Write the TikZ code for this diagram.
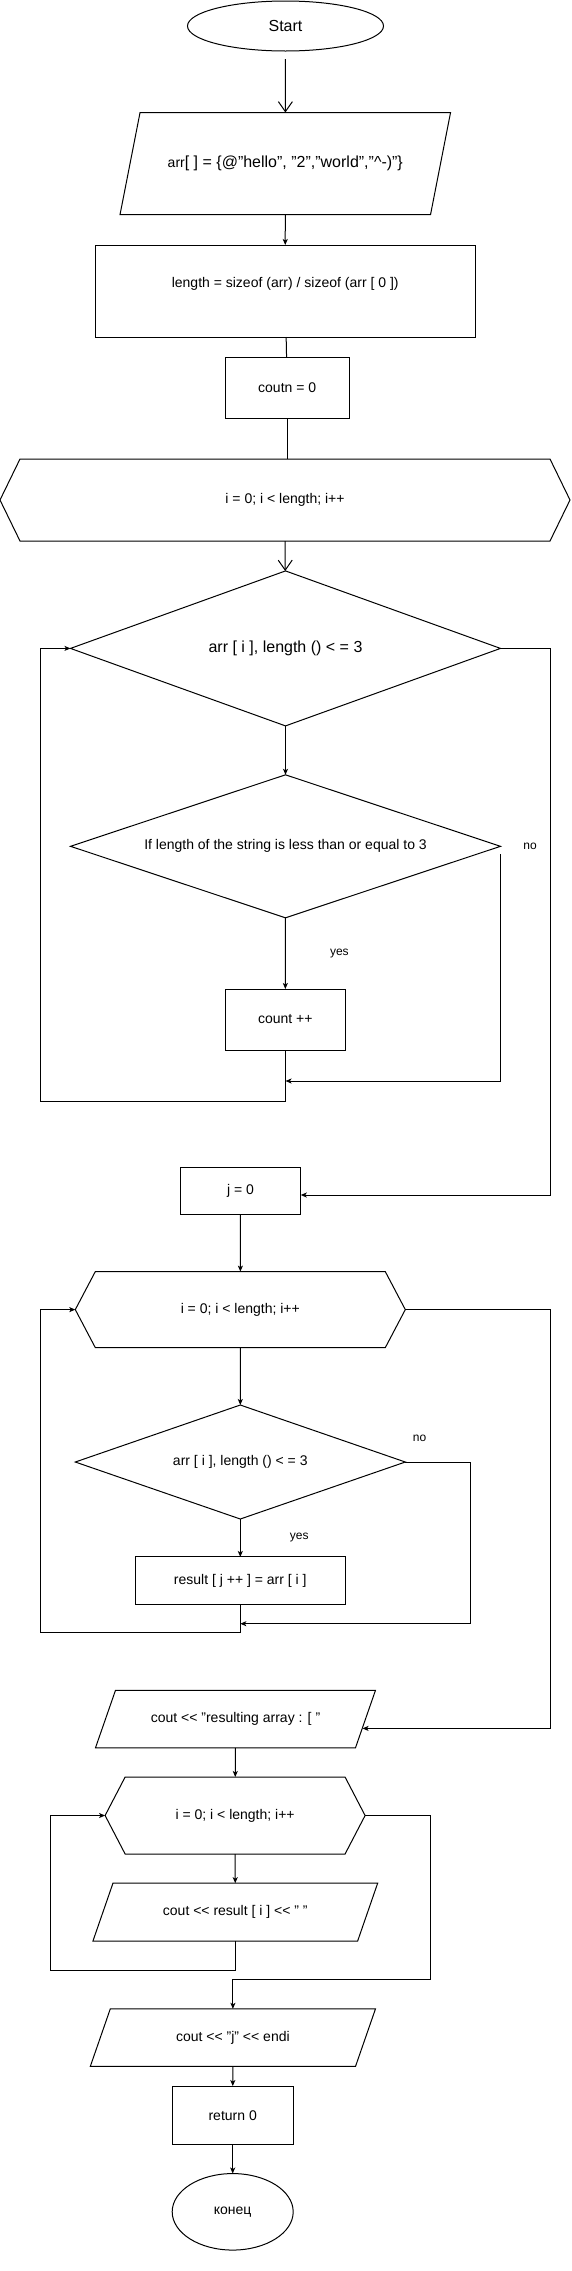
\documentclass[tikz,border=0pt]{standalone}
\usepackage{fontspec}
\setmainfont{Liberation Sans}
\usepackage{tikz}
\usetikzlibrary{arrows.meta, shapes.geometric, shapes.symbols}

\begin{document}
\begin{tikzpicture}[x=1pt, y=-1pt,
  every node/.style={font=\fontsize{14}{17}\selectfont, inner sep=0pt, outer sep=0pt},
  %
  terminal/.style={draw, ellipse},
  %
  process/.style={draw, rectangle, align=center},
  %
  inout/.style={rectangle, align=center,
    append after command={\pgfextra{\draw (\tikzlastnode.south west)
      -- ([xshift=20pt]\tikzlastnode.north west) -- (\tikzlastnode.north east)
      -- ([xshift=-20pt]\tikzlastnode.south east) -- cycle;}}},
  %
  decision/.style={draw, diamond, align=center},
  %
  loophex/.style={draw, signal, signal to=west and east},
  %
  lbl/.style={font=\fontsize{12}{14}\selectfont},
  %
  flow/.style={-{Stealth[length=6pt, width=5pt, inset=1.5pt]}},
  openflow/.style={-{Straight Barb[length=10pt, width=14pt]}}
  ]

  \tikzset{every path/.style={line width=1pt}}
  \useasboundingbox (0,0) rectangle (571,2271);

  \begin{scope}
    %%%%%%%%%%%%%%%%%%%%%%%%%%%%%%%
    \node [terminal, minimum width=196pt, minimum height=50pt] (start) at (285.5,26)
    {\fontsize{16}{19}\selectfont Start};
    \node [inout, minimum width=330.5pt, minimum height=102pt] (arr) at (285.3,163.5)
    {arr\fontsize{16}{19}\selectfont[ ] = \{@"hello", "2","world","\textasciicircum-)"\}};
    \node [process, minimum width=380pt, minimum height=92pt] (len) at (285.2,291)
    {length = sizeof (arr) / sizeof (arr [ 0 ])\\~};
    \node [process, minimum width=124pt, minimum height=61pt] (cnt) at (287.2,387.7)
    {coutn = 0};
    %%%%%%%%%%%%%%%%%%%%%%%%%%%%%%%
    \node [loophex, minimum width=570pt, minimum height=82pt,
    signal pointer angle=128] (for1) at (285,500) {i = 0; i < length; i++};
    \node [decision, minimum width=430pt, minimum height=155pt, aspect=2.77] (chk1)
    at (285.5,648.4) {\fontsize{16}{19}\selectfont arr [ i ], length () < = 3};
    \node [decision, minimum width=430pt, minimum height=143pt, aspect=3] (chk2)
    at (285.5,846.3) {If length of the string is less than or equal to 3};
    \node [process, minimum width=120pt, minimum height=61pt] (inc) at (285.3,1019.5)
    {count ++};
    %%%%%%%%%%%%%%%%%%%%%%%%%%%%%%%
    \node [process, minimum width=120.5pt, minimum height=47.3pt] (j0) at (240.5,1190.7)
    {j = 0};
    \node [loophex, minimum width=330pt, minimum height=76pt,
    signal pointer angle=124.5] (for2) at (240.3,1309.6) {i = 0; i < length; i++};
    \node [decision, minimum width=330pt, minimum height=114pt, aspect=2.9] (chk3)
    at (240.3,1462) {arr [ i ], length () < = 3};
    \node [process, minimum width=210pt, minimum height=47.7pt] (copy) at (240.3,1580.8)
    {result [ j ++ ] = arr [ i ]};
    %%%%%%%%%%%%%%%%%%%%%%%%%%%%%%%
    \node [inout, minimum width=280pt, minimum height=57.5pt] (head) at (235.5,1719)
    {cout <{}< "resulting array : [ "};
    \node [loophex, minimum width=260pt, minimum height=77pt,
    signal pointer angle=125] (for3) at (235.1,1815.5) {i = 0; i < length; i++};
    \node [inout, minimum width=284.7pt, minimum height=57.8pt] (show) at (235.3,1912.1)
    {cout <{}< result [ i ] <{}< " "};
    \node [inout, minimum width=285.2pt, minimum height=57.6pt] (tail) at (232.9,2037.6)
    {cout <{}< "j" <{}< endi};
    \node [process, minimum width=121pt, minimum height=58.3pt] (ret) at (232.7,2115.2)
    {return 0};
    \node [terminal, minimum width=121pt, minimum height=76.5pt] (stop) at (232.7,2211.8)
    {конец};
  \end{scope}

  \begin{scope}
    \coordinate (back1) at (40.4,1101);
    \coordinate (join1) at (285.5,1081);
    \coordinate (skip1) at (550,1195);
    \coordinate (back2) at (40.4,1632.8);
    \coordinate (join2) at (240.3,1623.7);
    \coordinate (skip2) at (550,1728.4);
    \coordinate (back3) at (50.3,1970.2);
    \coordinate (skip3) at (430.5,1979.7);

    \draw [openflow, shorten <=8pt] (start) -- (arr);
    \draw [flow] (arr) -- (len);
    \draw (len) -- (cnt);
    \draw (cnt.south) -- (cnt.south |- for1.north);
    \draw [openflow] (for1) -- (chk1);
    \draw [flow] (chk1) -- (chk2);
    \draw [flow] (chk2) -- (inc)
    node [midway, xshift=54pt, lbl] {yes};
    \draw [flow] ([yshift=-8pt]chk2.east) -- (chk2.east |- join1) -- (join1);
    \node [lbl] (no1) at (530,846) {no};
    \draw [flow] (inc.south) |- (back1) |- (chk1.west);
    \draw [flow] (chk1.east) -| (skip1) -- (skip1 -| j0.east);
    \draw [flow] (j0) -- (for2);
    \draw [flow] (for2) -- (chk3);
    \draw [flow] (chk3) -- (copy)
    node [midway, xshift=59pt, lbl] {yes};
    \draw [flow] (chk3.east) -| (470,1623.7) -- (join2);
    \node [lbl] (no2) at (419.5,1438) {no};
    \draw [flow] (copy.south) |- (back2) |- (for2.west);
    \draw [flow] (for2.east) -| (skip2) -- ([xshift=-13pt]skip2 -| head.east);
    \draw [flow] (head) -- (for3);
    \draw [flow] (for3) -- (show);
    \draw [flow] (show.south) |- (back3) |- (for3.west);
    \draw [flow] (for3.east) -| (skip3) -| (tail.north);
    \draw [flow] (tail) -- (ret);
    \draw [flow] (ret) -- (stop);
  \end{scope}

\end{tikzpicture}
\end{document}
